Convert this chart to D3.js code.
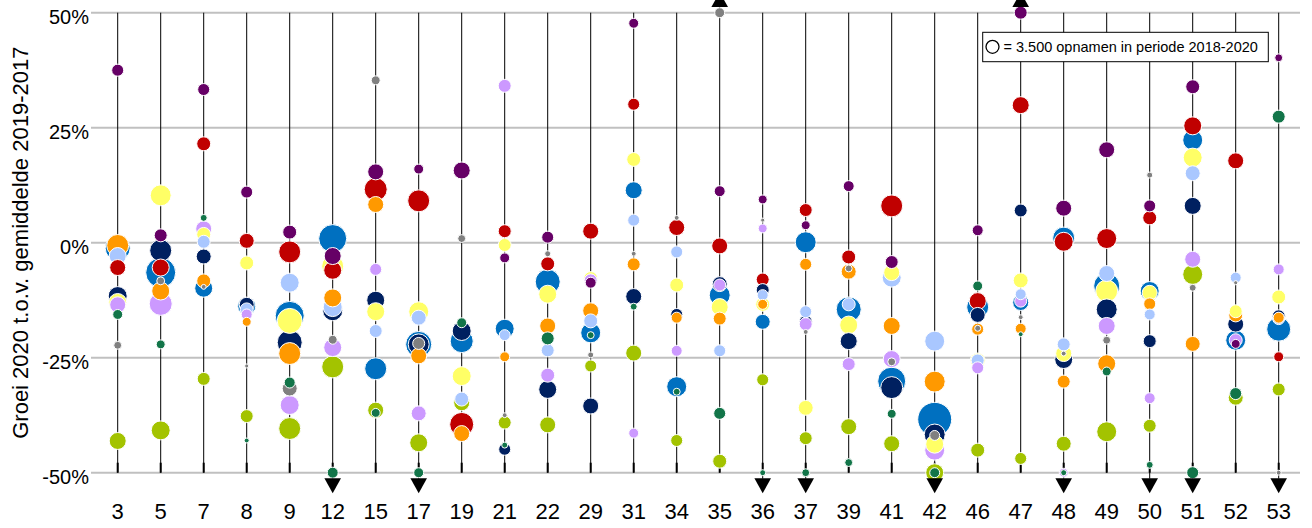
<!DOCTYPE html>
<html><head><meta charset="utf-8">
<script src="https://cdn.jsdelivr.net/npm/d3@7"></script>
<style>body{margin:0;background:#fff;} svg{display:block;font-family:"Liberation Sans",Arial,sans-serif;}</style>
</head><body><svg id="chart" width="1312" height="528"></svg>
<script>
// ---------- DATA ----------
const categories = ["3","5","7","8","9","12","15","17","19","21","22","29","31","34","35","36","37","39","41","42","46","47","48","49","50","51","52","53"];
const yTicks = [50, 25, 0, -25, -50];
const yTickLabels = ["50%", "25%", "0%", "-25%", "-50%"];
const arrowsDown = ["12","17","36","37","42","48","50","51","53"];
const arrowsUp = ["35","47"];
const legendCount = 3500;
const legendText = "= 3.500 opnamen in periode 2018-2020";
const yTitle = "Groei 2020 t.o.v. gemiddelde 2019-2017";

// growth 2020 (%) and number of admissions 2018-2020 per category
const purpleValues = [37.5,1.6,33.3,11.0,2.3,-2.9,15.4,16.0,15.7,-3.3,1.2,-8.7,47.7,null,11.2,9.4,3.8,12.3,-4.2,null,2.7,50,7.5,20.2,8.0,33.9,-22.0,40.2];
const purpleSizes  = [3000,3500,3000,3000,4050,6000,5300,2050,6000,2050,3000,2500,2050,null,2500,1650,1650,2500,3500,null,2500,3500,5300,5300,3000,4050,1650,1300];

const redValues = [-5.4,-5.4,21.5,0.4,-2.0,-6.0,11.6,9.1,-39.5,2.5,-4.6,2.5,30.1,3.3,-0.7,-8.0,7.1,-3.1,8.0,null,-12.7,29.9,0.2,0.9,5.4,25.4,17.8,-24.8];
const redSizes  = [5300,6000,4050,4650,10000,6700,10950,10000,11900,3500,4050,5300,3000,5300,5300,3500,3500,4050,10000,null,6000,6000,7450,8250,4050,6700,5300,2050];

const blueValues = [-1.2,-6.5,-9.9,-13.8,-15.9,0.9,-27.4,-22.1,-21.4,-18.7,-8.5,-19.6,11.4,-31.3,-11.4,-17.2,0.1,-14.5,-30.1,-38.4,-14.0,-13.0,1.0,-9.4,-10.5,22.3,-21.2,-18.8];
const blueSizes  = [12900,18600,6700,6700,17400,16200,10000,14000,10950,7450,12900,8250,6000,8250,9100,4650,9100,12900,16200,23900,10000,5300,10000,14000,7450,8250,8250,11900];

const navyValues = [-11.6,-1.7,-3.0,-13.5,-21.7,-14.8,-12.5,-22.1,-19.2,-44.9,-31.9,-35.5,-11.7,-15.6,-9.0,-10.3,-17.2,-21.4,-31.5,-41.7,-15.7,7.0,-25.4,-14.5,-21.4,8.0,-17.7,-16.0];
const navySizes  = [7450,10000,4650,4650,12900,8250,6700,9100,7450,3000,6700,5300,5300,3000,4650,3500,3500,6000,10000,9100,4650,3500,6700,9100,3500,6000,5300,3500];

const yellowValues = [-13.0,10.3,1.8,-4.4,-17.0,-5.1,-15.0,-15.0,-29.0,-0.5,-11.2,-7.8,18.1,-9.2,-14.0,-13.4,-35.9,-17.9,-6.5,-43.8,-25.6,-8.2,-24.1,-10.5,-10.9,18.5,-14.9,-11.8];
const yellowSizes  = [6700,9100,4050,4050,12900,10000,6700,8250,7450,3500,6700,4050,4050,4050,6000,4050,4650,6700,5300,6700,4650,4650,5300,10000,4650,7450,3500,4050];

const lightBlueValues = [-2.9,null,0.2,-14.5,-8.7,-14.0,-19.2,-16.3,-34.0,-20.1,-23.4,-17.0,4.9,-2.0,-23.5,-11.4,-15.0,-13.4,-7.6,-21.4,-25.6,-11.2,-22.1,-6.7,-15.6,15.1,-7.6,-16.5];
const lightBlueSizes  = [6000,null,3500,3500,7450,7450,3500,4650,4050,2500,3500,4050,3000,3000,3000,2500,3000,3500,7450,8250,3500,2500,3500,5300,2500,4650,2500,3000];

const orangeValues = [-0.6,-10.5,-8.3,-17.2,-24.1,-12.0,8.3,-24.6,-41.5,-24.8,-18.1,-14.8,-4.7,-16.3,-16.5,-13.4,-4.7,-6.3,-18.1,-30.2,-18.8,-18.7,-30.2,-26.3,-13.3,-22.0,-15.7,-16.3];
const orangeSizes  = [10000,6700,4050,1650,10000,6700,5300,5300,5300,2050,5300,5300,3500,2500,3500,2050,3000,4650,6000,9100,3000,2500,3500,6700,3000,4650,4050,2500];

const lavenderValues = [-13.5,-13.3,3.0,-15.6,-35.3,-22.8,-5.8,-37.1,null,34.1,-28.8,-8.2,-41.4,-23.5,-9.2,3.1,-17.7,-26.4,-25.3,-45.1,-27.2,-12.7,-50,-18.1,-33.8,-3.6,-21.2,-5.8];
const lavenderSizes  = [5300,10950,5300,2500,7450,6700,3000,4650,null,3500,4050,3500,2050,2500,3000,1650,3500,3500,6000,8250,3000,3000,1650,6000,2500,5300,3500,2500];

const greenValues = [-15.6,-22.1,5.4,-43.0,-30.4,-50,-37.0,-50,-17.4,-44.0,-20.8,-20.1,-13.9,-32.4,-37.1,-50,-50,-47.8,-37.2,-50,-9.4,-19.9,-50,-28.0,-48.3,-50,-32.8,27.4];
const greenSizes  = [2050,1650,1000,500,2500,2500,1650,2050,2050,750,3500,1000,1000,1000,3000,750,1300,1300,1650,2050,2050,500,750,1650,1000,3000,3000,3500];

const grayValues = [-22.3,-8.3,-9.6,-26.8,-31.7,-21.1,35.3,-21.9,0.9,-37.5,-2.4,-24.4,-2.4,5.4,50,4.9,-19.4,-5.6,-25.9,-41.9,-18.6,-16.2,-24.1,-21.2,14.7,-9.8,-8.7,-50];
const graySizes  = [1300,1300,500,350,4650,1650,1650,3000,1300,500,750,750,500,500,2050,350,500,1000,1300,2050,750,500,500,1300,750,1000,350,500];

const limeValues = [-43.1,-40.8,-29.6,-37.7,-40.4,-27.0,-36.4,-43.5,-34.8,-39.1,-39.6,-26.8,-24.0,-43.0,-47.5,-29.8,-42.5,-40.0,-43.7,-50,-45.1,-46.9,-43.7,-41.1,-39.8,-6.9,-33.7,-31.9];
const limeSizes  = [6000,7450,3500,3500,10000,10000,5300,6700,5300,3500,5300,3000,5300,3000,4050,3000,3500,5300,5300,6700,4050,3000,4650,8250,3500,8250,4650,3500];

const seriesList = [
  {key:"purple", values: purpleValues, sizes: purpleSizes},
  {key:"red", values: redValues, sizes: redSizes},
  {key:"blue", values: blueValues, sizes: blueSizes},
  {key:"navy", values: navyValues, sizes: navySizes},
  {key:"yellow", values: yellowValues, sizes: yellowSizes},
  {key:"lightblue", values: lightBlueValues, sizes: lightBlueSizes},
  {key:"orange", values: orangeValues, sizes: orangeSizes},
  {key:"lavender", values: lavenderValues, sizes: lavenderSizes},
  {key:"green", values: greenValues, sizes: greenSizes},
  {key:"gray", values: grayValues, sizes: graySizes},
  {key:"lime", values: limeValues, sizes: limeSizes}
];

// ---------- STYLE ----------
const colors = {
  purple:"#660066", red:"#C00000", blue:"#0070C0", navy:"#002060", yellow:"#FFFF66",
  lightblue:"#A9C7FF", orange:"#FF9900", lavender:"#CC99FF", green:"#127549", gray:"#808080", lime:"#A3C300"
};

// ---------- CHART ----------
const svg = d3.select("#chart");
const x = d3.scalePoint().domain(categories).range([117.7, 1278.7]);
const y = d3.scaleLinear().domain([-50, 50]).range([472.7, 12.7]);
const r = d3.scaleSqrt().domain([0, legendCount]).range([0, 6.5]);

// gridlines
svg.append("g").selectAll("line").data(yTicks).join("line")
  .attr("x1", 91).attr("x2", 1300)
  .attr("y1", d => y(d)).attr("y2", d => y(d))
  .attr("stroke", "#c0c0c0").attr("stroke-width", 2);

// y tick labels
svg.append("g").selectAll("text").data(yTicks).join("text")
  .attr("x", 89).attr("y", d => y(d) + 11.5)
  .attr("text-anchor", "end").attr("font-size", 20).attr("fill", "#000")
  .text((d, i) => yTickLabels[i]);

// y title
svg.append("text")
  .attr("transform", `translate(28,${(y(50) + y(-50)) / 2}) rotate(-90)`)
  .attr("text-anchor", "middle").attr("font-size", 22).attr("fill", "#000")
  .text(yTitle);

// vertical lines
svg.append("g").selectAll("line").data(categories).join("line")
  .attr("x1", d => x(d)).attr("x2", d => x(d))
  .attr("y1", d => arrowsUp.includes(d) ? y(50) - 6 : y(50))
  .attr("y2", d => arrowsDown.includes(d) ? y(-50) + 6 : y(-50))
  .attr("stroke", "#000").attr("stroke-width", 1);

// bottom ticks
svg.append("g").selectAll("line").data(categories).join("line")
  .attr("x1", d => x(d)).attr("x2", d => x(d))
  .attr("y1", y(-50) - 10).attr("y2", y(-50))
  .attr("stroke", "#000").attr("stroke-width", 2);

// x labels
svg.append("g").selectAll("text").data(categories).join("text")
  .attr("x", d => x(d)).attr("y", 518.5)
  .attr("text-anchor", "middle").attr("font-size", 22).attr("fill", "#000")
  .text(d => d);

// bubbles (largest first so small ones stay visible)
const points = [];
seriesList.forEach(s => {
  categories.forEach((c, i) => {
    if (s.values[i] !== null && s.sizes[i] !== null) {
      points.push({cat: c, value: s.values[i], size: s.sizes[i], key: s.key});
    }
  });
});
points.sort((a, b) => b.size - a.size);
svg.append("g").selectAll("circle").data(points).join("circle")
  .attr("cx", d => x(d.cat)).attr("cy", d => y(d.value))
  .attr("r", d => r(d.size))
  .attr("fill", d => colors[d.key])
  .attr("stroke", "#fff").attr("stroke-width", 1);

// arrows for values beyond the axis range
svg.append("g").selectAll("path").data(arrowsDown).join("path")
  .attr("d", d => {
    const cx = x(d), b = y(-50) + 5.6;
    return `M${cx - 8.3},${b}L${cx + 8.3},${b}L${cx},${b + 15}Z`;
  }).attr("fill", "#000");
svg.append("g").selectAll("path").data(arrowsUp).join("path")
  .attr("d", d => {
    const cx = x(d), b = y(50) - 5.6;
    return `M${cx - 8.3},${b}L${cx + 8.3},${b}L${cx},${b - 15}Z`;
  }).attr("fill", "#000");

// legend
const lg = svg.append("g");
lg.append("rect").attr("x", 982.7).attr("y", 32.3).attr("width", 285.6).attr("height", 29.4)
  .attr("fill", "#fff").attr("stroke", "#000").attr("stroke-width", 1);
lg.append("circle").attr("cx", 992.5).attr("cy", 46.8).attr("r", r(legendCount))
  .attr("fill", "#fff").attr("stroke", "#000").attr("stroke-width", 1.3);
lg.append("text").attr("x", 1003.5).attr("y", 52).attr("font-size", 14.5).attr("fill", "#000")
  .text(legendText);
</script></body></html>
